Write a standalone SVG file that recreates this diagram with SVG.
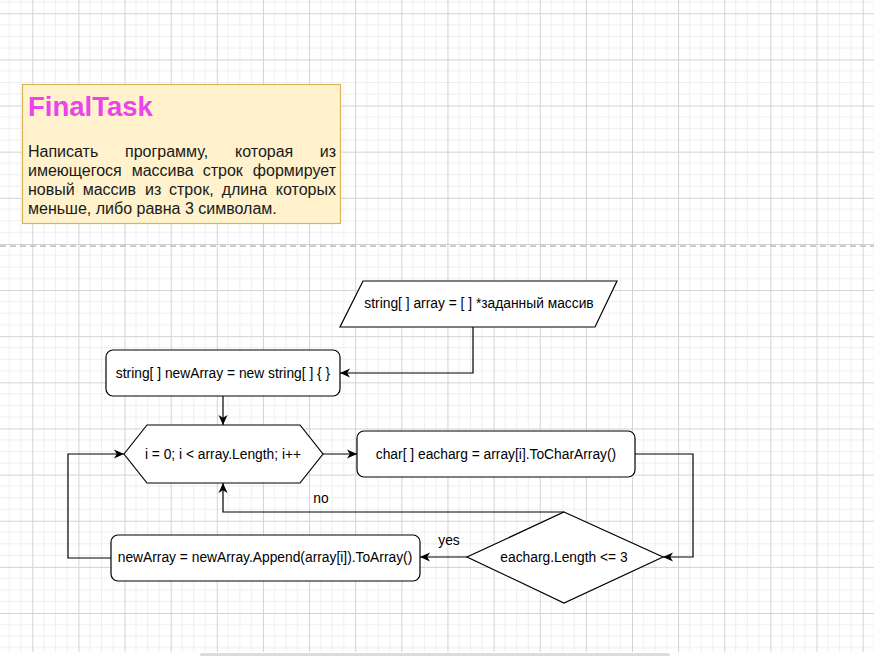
<svg xmlns="http://www.w3.org/2000/svg" width="874" height="656" viewBox="0 0 874 656">
  <defs>
    <pattern id="grid" patternUnits="userSpaceOnUse" x="32.3" y="13.3" width="46.13" height="46.13">
      <path d="M11.53,0 V46.13 M23.07,0 V46.13 M34.6,0 V46.13 M0,11.53 H46.13 M0,23.07 H46.13 M0,34.6 H46.13" stroke="#eeeeee" stroke-width="1" fill="none"/>
      <path d="M0.5,0 V46.13 M0,0.5 H46.13" stroke="#d2d2d2" stroke-width="1" fill="none"/>
    </pattern>
    <marker id="arrow" viewBox="0 0 10 10" refX="10" refY="5" markerWidth="10" markerHeight="10" markerUnits="userSpaceOnUse" orient="auto">
      <path d="M0,0.5 L10,5 L0,9.5 L2.8,5 Z" fill="#000"/>
    </marker>
    <style>
      .node { fill: #ffffff; stroke: #000000; stroke-width: 1.2; }
      .lbl { font-family: "Liberation Sans", Arial, sans-serif; font-size: 13.8px; fill: #000; text-anchor: middle; }
      .edge { fill: none; stroke: #000000; stroke-width: 1.2; }
      .body { font-family: "Liberation Sans", Arial, sans-serif; font-size: 16px; fill: #1a1a1a; }
      .end { text-anchor: end; }
    </style>
  </defs>

  <rect x="0" y="0" width="874" height="656" fill="#ffffff"/>
  <rect x="0" y="0" width="874" height="652" fill="url(#grid)"/>
  <line x1="0" y1="246" x2="874" y2="246" stroke="#bdbdbd" stroke-width="1.5" stroke-dasharray="6 4"/>
  <rect x="200" y="653" width="470" height="4" rx="2" fill="#dcdcdc"/>

  <g id="title-note">
    <rect x="22.5" y="84.5" width="318" height="139" fill="#fff2cc" stroke="#d6b656" stroke-width="1.2"/>
    <text x="28" y="116" font-family="Liberation Sans, Arial, sans-serif" font-size="27.5" font-weight="bold" fill="#ea44ea">FinalTask</text>
    <text class="body" y="157"><tspan x="28">Написать</tspan><tspan x="125">программу,</tspan><tspan x="235">которая</tspan><tspan x="336" class="end">из</tspan></text>
    <text class="body" y="176"><tspan x="28">имеющегося</tspan><tspan x="131.7">массива</tspan><tspan x="202.7">строк</tspan><tspan x="336" class="end">формирует</tspan></text>
    <text class="body" y="195"><tspan x="28">новый</tspan><tspan x="82.7">массив</tspan><tspan x="145">из</tspan><tspan x="169">строк,</tspan><tspan x="221.7">длина</tspan><tspan x="336" class="end">которых</tspan></text>
    <text class="body" x="28" y="214">меньше, либо равна 3 символам.</text>
  </g>

  <g id="connectors">
    <path class="edge" d="M473,327 V373 H340" marker-end="url(#arrow)"/>
    <path class="edge" d="M223,396 V425" marker-end="url(#arrow)"/>
    <path class="edge" d="M323,454 H357" marker-end="url(#arrow)"/>
    <path class="edge" d="M635,454 H693 V557 H663" marker-end="url(#arrow)"/>
    <path class="edge" d="M564,512 H223 V483" marker-end="url(#arrow)"/>
    <text class="lbl" x="321" y="503">no</text>
    <path class="edge" d="M467,557 H420" marker-end="url(#arrow)"/>
    <text class="lbl" x="449" y="545">yes</text>
    <path class="edge" d="M111,558 H68 V454 H124" marker-end="url(#arrow)"/>
  </g>

  <g id="input-array">
    <polygon class="node" points="363,281 617,281 595,327 340,327"/>
    <text class="lbl" x="479" y="308">string[ ] array = [ ] *заданный массив</text>
  </g>

  <g id="new-array">
    <rect class="node" x="106" y="350" width="234" height="46" rx="7"/>
    <text class="lbl" x="223" y="378">string[ ] newArray = new string[ ] { }</text>
  </g>

  <g id="loop">
    <polygon class="node" points="124,454 147,425 300,425 323,454 300,483 147,483"/>
    <text class="lbl" x="223" y="459">i = 0; i &lt; array.Length; i++</text>
  </g>

  <g id="char-array">
    <rect class="node" x="357" y="431" width="278" height="46" rx="7"/>
    <text class="lbl" x="496" y="459">char[ ] eacharg = array[i].ToCharArray()</text>
  </g>

  <g id="condition">
    <polygon class="node" points="564,512 663,557 564,603 467,557"/>
    <text class="lbl" x="564" y="562">eacharg.Length &lt;= 3</text>
  </g>

  <g id="append">
    <rect class="node" x="111" y="535" width="309" height="46" rx="7"/>
    <text class="lbl" x="265" y="562">newArray = newArray.Append(array[i]).ToArray()</text>
  </g>
</svg>
